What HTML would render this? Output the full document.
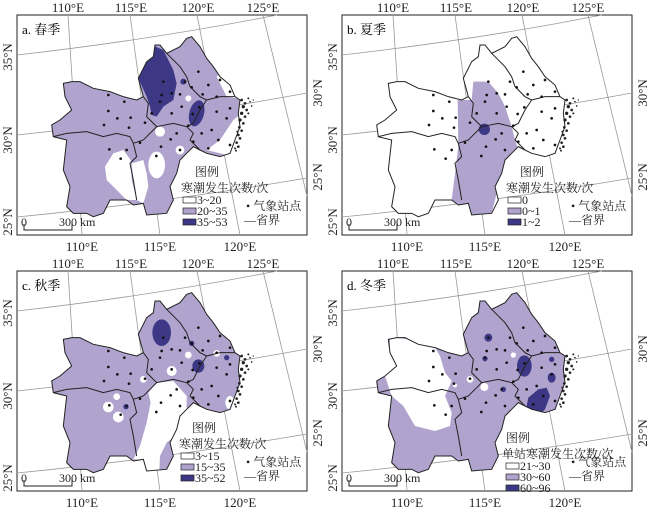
<!DOCTYPE html>
<html><head><meta charset="utf-8"><style>
html,body{margin:0;padding:0;background:#fff;}
svg{display:block;font-family:"Liberation Serif","Noto Serif CJK SC","Noto Sans CJK SC",serif;}
</style></head><body>
<svg width="650" height="512" viewBox="0 0 650 512" xmlns="http://www.w3.org/2000/svg">
<defs>
<path id="land" d="M190,250 L215,245 L240,245 L280,265 L330,275 L370,290 L410,300 L430,290 L415,235 L440,185 L460,170 L465,135 L480,135 L500,160 L540,140 L560,115 L575,110 L600,140 L620,175 L640,200 L660,230 L690,255 L705,290 L720,300 L715,340 L720,380 L705,420 L690,460 L660,470 L620,460 L600,450 L580,440 L560,460 L540,480 L530,520 L510,560 L520,600 L500,640 L440,645 L430,610 L400,615 L380,600 L330,600 L310,640 L280,650 L260,640 L220,640 L200,620 L210,560 L190,510 L200,420 L160,410 L155,375 L180,360 L215,330 L195,290 Z"/>
<clipPath id="clip"><use href="#land"/></clipPath>
<g id="borders" fill="none" stroke="#222" stroke-width="3">
<use href="#land"/>
<path d="M160,410 L200,400 L260,395 L310,410 L350,400 L390,410 L400,430 L410,470 L390,490 L400,540 L410,600 M400,430 L430,420 L470,380 L520,370 L560,380 L580,400 L570,420 L590,440 L600,450 M430,290 L445,310 L440,350 L470,380 M500,160 L540,200 L560,230 L570,260 L600,290 L620,300 L600,330 L580,370 L560,380 M620,300 L660,290 L705,290"/>
</g>
<g id="dots" fill="#111">
<circle cx="490" cy="245" r="4"/><circle cx="515" cy="280" r="4"/><circle cx="485" cy="285" r="4"/><circle cx="540" cy="283" r="4"/><circle cx="480" cy="305" r="4"/><circle cx="455" cy="340" r="4"/><circle cx="515" cy="340" r="4"/><circle cx="555" cy="245" r="4"/><circle cx="575" cy="262" r="4"/><circle cx="595" cy="215" r="4"/><circle cx="625" cy="255" r="4"/><circle cx="608" cy="283" r="4"/><circle cx="650" cy="290" r="4"/><circle cx="660" cy="240" r="4"/><circle cx="690" cy="275" r="4"/><circle cx="690" cy="325" r="4"/><circle cx="598" cy="322" r="4"/><circle cx="578" cy="342" r="4"/><circle cx="565" cy="377" r="4"/><circle cx="530" cy="400" r="4"/><circle cx="512" cy="418" r="4"/><circle cx="483" cy="440" r="4"/><circle cx="469" cy="468" r="4"/><circle cx="540" cy="450" r="4"/><circle cx="580" cy="425" r="4"/><circle cx="605" cy="400" r="4"/><circle cx="635" cy="390" r="4"/><circle cx="655" cy="420" r="4"/><circle cx="625" cy="445" r="4"/><circle cx="690" cy="435" r="4"/><circle cx="680" cy="355" r="4"/><circle cx="650" cy="335" r="4"/><circle cx="325" cy="285" r="4"/><circle cx="373" cy="305" r="4"/><circle cx="325" cy="333" r="4"/><circle cx="352" cy="355" r="4"/><circle cx="392" cy="353" r="4"/><circle cx="312" cy="375" r="4"/><circle cx="387" cy="383" r="4"/><circle cx="435" cy="368" r="4"/><circle cx="420" cy="428" r="4"/><circle cx="328" cy="448" r="4"/><circle cx="380" cy="450" r="4"/><circle cx="362" cy="476" r="4"/><circle cx="545" cy="320" r="4"/>
<g fill="#222">
<circle cx="725" cy="300" r="4"/><circle cx="735" cy="310" r="4"/><circle cx="745" cy="295" r="3"/><circle cx="730" cy="320" r="5"/><circle cx="740" cy="330" r="4"/><circle cx="725" cy="340" r="5"/><circle cx="735" cy="350" r="4"/><circle cx="720" cy="360" r="5"/><circle cx="730" cy="370" r="4"/><circle cx="718" cy="382" r="4"/><circle cx="725" cy="392" r="4"/><circle cx="715" cy="405" r="4"/><circle cx="720" cy="415" r="4"/><circle cx="710" cy="428" r="4"/><circle cx="715" cy="440" r="4"/><circle cx="708" cy="452" r="3"/><circle cx="750" cy="305" r="2.5"/><circle cx="755" cy="318" r="2.5"/><circle cx="745" cy="340" r="3"/><circle cx="712" cy="395" r="3"/><circle cx="705" cy="445" r="3"/><circle cx="760" cy="300" r="2"/>
</g>
</g>
<g id="frame">
<rect x="17" y="15" width="290" height="220" fill="none" stroke="#222" stroke-width="1"/>
<g fill="none" stroke="#999" stroke-width="0.8">
<path d="M68,15 L82,235 M130,15 L160,235 M197,15 L240,235 M263,15 L307,196"/>
<path d="M17,55 Q150,40 277,15 M17,135 Q160,120 307,93 M17,217 Q160,203 307,178"/>
</g>
<g font-size="13" fill="#222" text-anchor="middle">
<text x="68" y="12">110°E</text><text x="131" y="12">115°E</text><text x="198" y="12">120°E</text><text x="263" y="12">125°E</text>
<text x="82" y="251">110°E</text><text x="160" y="251">115°E</text><text x="240" y="251">120°E</text>
<text transform="translate(12,57) rotate(-90)">35°N</text>
<text transform="translate(12,140) rotate(-90)">30°N</text>
<text transform="translate(12,222) rotate(-90)">25°N</text>
<text transform="translate(322,93) rotate(-90)">30°N</text>
<text transform="translate(322,177) rotate(-90)">25°N</text>
</g>
<g font-size="12" fill="#222">
<text x="21" y="226">0</text><text x="59" y="226">300 km</text>
<path d="M24,224 L24,230 L72,230 L72,224" fill="none" stroke="#222" stroke-width="1"/>
<text x="246" y="210">• 气象站点</text>
<text x="244" y="224">—省界</text>
</g>
</g>
</defs>

<!-- Panel a -->
<g>
<use href="#frame"/>
<text x="22" y="34" font-size="13">a. 春季</text>
<g transform="scale(0.33333)">
<g clip-path="url(#clip)">
<use href="#land" fill="#b0a3cd"/>
<path d="M455,135 L490,150 L520,210 L530,250 L520,300 L490,320 L470,350 L455,345 L450,320 L440,290 L415,235 L440,185 L460,170 Z" fill="#3d3886"/>
<ellipse cx="590" cy="340" rx="22" ry="40" transform="rotate(15 590 340)" fill="#3d3886"/>
<circle cx="550" cy="245" r="9" fill="#3d3886"/>
<path d="M315,500 L340,460 L370,450 L392,480 L395,540 L410,600 L380,600 L350,570 L320,540 Z" fill="#fff"/>
<path d="M395,490 L430,480 L440,520 L445,560 L430,610 L410,600 L400,540 Z" fill="#fff"/>
<ellipse cx="470" cy="495" rx="25" ry="40" fill="#fff"/>
<circle cx="480" cy="395" r="15" fill="#fff"/><circle cx="540" cy="450" r="13" fill="#fff"/><circle cx="565" cy="295" r="9" fill="#fff"/>
<path d="M620,450 L660,420 L700,360 L725,340 L725,430 L700,470 Z" fill="#fff"/>
<path d="M650,230 L670,215 L695,250 L710,295 L680,290 Z" fill="#fff"/>
</g>
<use href="#borders"/><use href="#dots"/>
</g>
<g font-size="12" fill="#222">
<text x="195" y="176">图例</text><text x="181" y="192">寒潮发生次数/次</text>
<rect x="183" y="197" width="13" height="6" fill="#fff" stroke="#222" stroke-width="0.7"/><text x="197" y="204">3~20</text>
<rect x="183" y="208" width="13" height="6" fill="#b0a3cd" stroke="#222" stroke-width="0.7"/><text x="197" y="215">20~35</text>
<rect x="183" y="219" width="13" height="6" fill="#3d3886" stroke="#222" stroke-width="0.7"/><text x="197" y="226">35~53</text>
</g>
</g>

<!-- Panel b -->
<g transform="translate(325,0)">
<use href="#frame"/>
<text x="22" y="34" font-size="13">b. 夏季</text>
<g transform="scale(0.33333)">
<g clip-path="url(#clip)">
<use href="#land" fill="#fff"/>
<path d="M445,245 L490,245 L520,280 L540,320 L560,380 L570,420 L580,450 L550,470 L540,480 L520,560 L500,640 L440,645 L430,610 L400,615 L380,600 L390,520 L400,440 L398,300 L440,300 Z" fill="#b0a3cd"/>
<circle cx="478" cy="388" r="17" fill="#3d3886"/>
</g>
<use href="#borders"/><use href="#dots"/>
</g>
<g font-size="12" fill="#222">
<text x="195" y="176">图例</text><text x="181" y="192">寒潮发生次数/次</text>
<rect x="183" y="197" width="13" height="6" fill="#fff" stroke="#222" stroke-width="0.7"/><text x="197" y="204">0</text>
<rect x="183" y="208" width="13" height="6" fill="#b0a3cd" stroke="#222" stroke-width="0.7"/><text x="197" y="215">0~1</text>
<rect x="183" y="219" width="13" height="6" fill="#3d3886" stroke="#222" stroke-width="0.7"/><text x="197" y="226">1~2</text>
</g>
</g>

<!-- Panel c -->
<g transform="translate(0,256)">
<use href="#frame"/>
<text x="22" y="34" font-size="13">c. 秋季</text>
<g transform="scale(0.33333)">
<g clip-path="url(#clip)">
<use href="#land" fill="#b0a3cd"/>
<path d="M445,410 L470,380 L520,375 L560,420 L560,460 L540,480 L525,540 L500,560 L480,600 L478,645 L440,645 L430,610 L400,610 L420,570 L440,500 L452,440 Z" fill="#fff"/>
<ellipse cx="485" cy="230" rx="28" ry="40" fill="#3d3886"/>
<ellipse cx="595" cy="330" rx="18" ry="20" fill="#3d3886"/>
<circle cx="575" cy="262" r="8" fill="#3d3886"/><circle cx="378" cy="452" r="8" fill="#3d3886"/><circle cx="680" cy="305" r="8" fill="#3d3886"/>
<circle cx="325" cy="453" r="16" fill="#fff"/><circle cx="355" cy="483" r="16" fill="#fff"/><circle cx="350" cy="422" r="10" fill="#fff"/><circle cx="515" cy="345" r="15" fill="#fff"/><circle cx="565" cy="297" r="10" fill="#fff"/><circle cx="650" cy="292" r="10" fill="#fff"/><ellipse cx="690" cy="440" rx="14" ry="20" fill="#fff"/><circle cx="430" cy="370" r="10" fill="#fff"/>
</g>
<use href="#borders"/><use href="#dots"/>
</g>
<g font-size="12" fill="#222">
<text x="192" y="176">图例</text><text x="179" y="192">寒潮发生次数/次</text>
<rect x="181" y="197" width="13" height="6" fill="#fff" stroke="#222" stroke-width="0.7"/><text x="195" y="204">3~15</text>
<rect x="181" y="208" width="13" height="6" fill="#b0a3cd" stroke="#222" stroke-width="0.7"/><text x="195" y="215">15~35</text>
<rect x="181" y="219" width="13" height="6" fill="#3d3886" stroke="#222" stroke-width="0.7"/><text x="195" y="226">35~52</text>
</g>
</g>

<!-- Panel d -->
<g transform="translate(325,256)">
<use href="#frame"/>
<text x="22" y="34" font-size="13">d. 冬季</text>
<g transform="scale(0.33333)">
<g clip-path="url(#clip)">
<use href="#land" fill="#b0a3cd"/>
<path d="M195,245 L260,250 L330,275 L345,300 L360,350 L380,375 L360,420 L380,470 L375,510 L330,525 L270,510 L235,450 L200,420 L180,360 L215,330 L195,290 Z" fill="#fff"/>
<circle cx="490" cy="245" r="12" fill="#3d3886"/><circle cx="480" cy="308" r="8" fill="#3d3886"/>
<ellipse cx="598" cy="330" rx="22" ry="32" fill="#3d3886"/>
<ellipse cx="680" cy="365" rx="12" ry="15" fill="#3d3886"/>
<circle cx="535" cy="400" r="8" fill="#3d3886"/><circle cx="680" cy="310" r="8" fill="#3d3886"/>
<path d="M610,425 L640,400 L665,395 L675,420 L660,460 L645,475 L615,470 L605,450 Z" fill="#3d3886"/>
<circle cx="435" cy="370" r="10" fill="#fff"/><circle cx="478" cy="393" r="12" fill="#fff"/><circle cx="565" cy="297" r="8" fill="#fff"/><circle cx="390" cy="388" r="6" fill="#fff"/>
</g>
<use href="#borders"/><use href="#dots"/>
</g>
<g font-size="12" fill="#222">
<text x="181" y="186">图例</text><text x="177" y="202">单站寒潮发生次数/次</text>
<rect x="181" y="207" width="13" height="6" fill="#fff" stroke="#222" stroke-width="0.7"/><text x="195" y="214">21~30</text>
<rect x="181" y="218" width="13" height="6" fill="#b0a3cd" stroke="#222" stroke-width="0.7"/><text x="195" y="225">30~60</text>
<rect x="181" y="229" width="13" height="6" fill="#3d3886" stroke="#222" stroke-width="0.7"/><text x="195" y="236">60~96</text>
</g>
</g>
</svg>
</body></html>
